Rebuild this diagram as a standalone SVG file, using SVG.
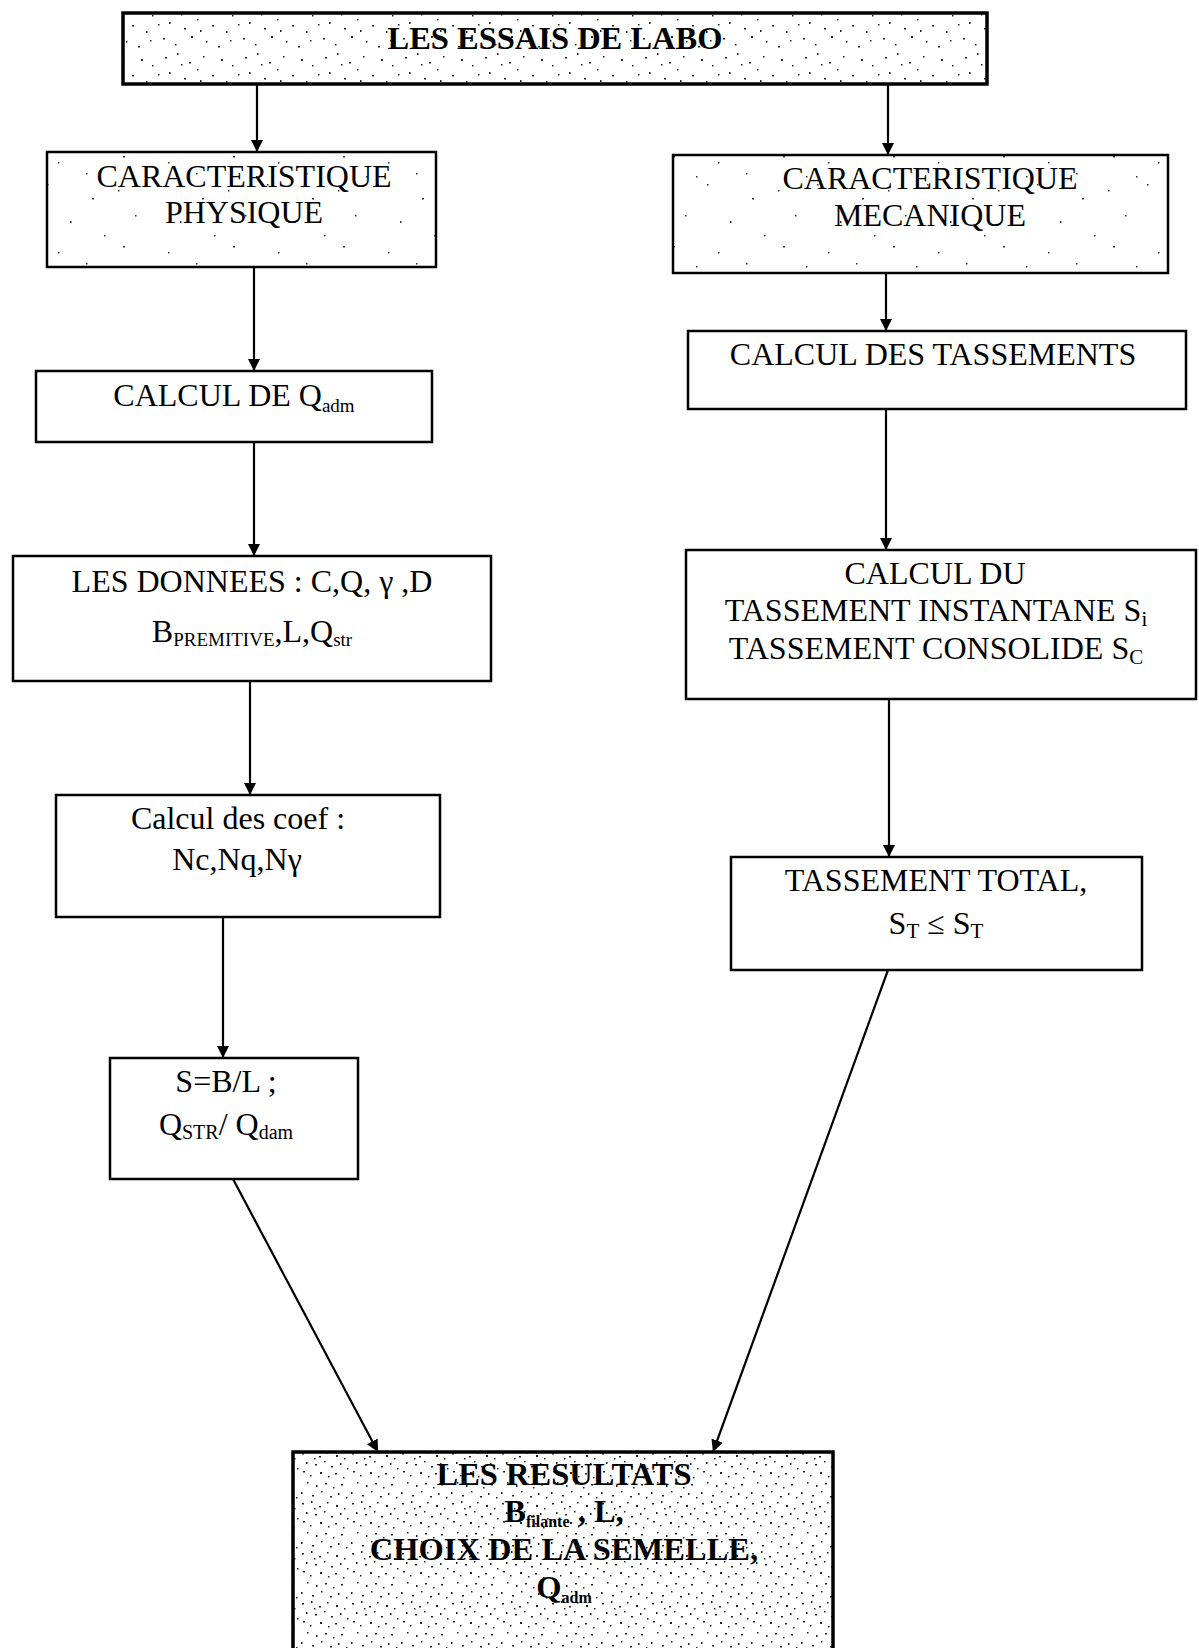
<svg xmlns="http://www.w3.org/2000/svg" width="1199" height="1648" viewBox="0 0 1199 1648">
  <style>
    .box { stroke: #000; stroke-width: 2.5; }
    .heavy { stroke: #000; stroke-width: 3.5; }
    .t { font-family: "Liberation Serif", "Times New Roman", serif; font-size: 32px; fill: #000; text-anchor: middle; }
    .b { font-weight: bold; font-size: 32.5px; }
    .link { stroke: #000; stroke-width: 2.2; fill: none; marker-end: url(#tip); }
  </style>
  <defs>
    <marker id="tip" viewBox="0 0 10 10" refX="10" refY="5" markerWidth="5.5" markerHeight="5.5" orient="auto" markerUnits="strokeWidth">
      <path d="M0,0 L10,5 L0,10 Z" fill="#000"/>
    </marker>
    <!-- light speckle for the top banner -->
    <pattern id="speckMid" width="80" height="50" patternUnits="userSpaceOnUse">
      <rect width="80" height="50" fill="#fff"/>
      <g fill="#222">
        <rect x="5" y="7" width="2" height="1.5"/><rect x="17" y="3" width="1.5" height="2"/>
        <rect x="29" y="12" width="2" height="1.5"/><rect x="43" y="6" width="1.5" height="1.5"/>
        <rect x="61" y="9" width="2" height="2"/><rect x="72" y="15" width="1.5" height="1.5"/>
        <rect x="9" y="22" width="1.5" height="2"/><rect x="24" y="28" width="2" height="1.5"/>
        <rect x="37" y="19" width="1.5" height="1.5"/><rect x="52" y="25" width="2" height="1.5"/>
        <rect x="66" y="31" width="1.5" height="2"/><rect x="78" y="24" width="1.5" height="1.5"/>
        <rect x="3" y="38" width="2" height="1.5"/><rect x="15" y="44" width="1.5" height="1.5"/>
        <rect x="31" y="36" width="2" height="2"/><rect x="46" y="41" width="1.5" height="1.5"/>
        <rect x="58" y="46" width="2" height="1.5"/><rect x="70" y="40" width="1.5" height="1.5"/>
        <rect x="21" y="14" width="1.5" height="1.5"/><rect x="40" y="30" width="1.5" height="2"/>
      </g>
    </pattern>
    <!-- dense speckle for the results box -->
    <pattern id="speckDense" width="50" height="50" patternUnits="userSpaceOnUse">
      <rect width="50" height="50" fill="#fff"/>
      <g fill="#222">
        <rect x="2" y="3" width="2" height="1.5"/><rect x="11" y="1" width="1.5" height="2"/>
        <rect x="19" y="6" width="2" height="1.5"/><rect x="27" y="2" width="1.5" height="1.5"/>
        <rect x="36" y="5" width="2" height="2"/><rect x="44" y="8" width="1.5" height="1.5"/>
        <rect x="6" y="12" width="1.5" height="2"/><rect x="15" y="14" width="2" height="1.5"/>
        <rect x="24" y="11" width="1.5" height="1.5"/><rect x="31" y="16" width="2" height="1.5"/>
        <rect x="40" y="13" width="1.5" height="2"/><rect x="47" y="18" width="1.5" height="1.5"/>
        <rect x="3" y="21" width="2" height="1.5"/><rect x="10" y="25" width="1.5" height="1.5"/>
        <rect x="20" y="22" width="2" height="2"/><rect x="28" y="26" width="1.5" height="1.5"/>
        <rect x="35" y="23" width="2" height="1.5"/><rect x="43" y="27" width="1.5" height="1.5"/>
        <rect x="7" y="32" width="1.5" height="1.5"/><rect x="16" y="35" width="1.5" height="2"/>
        <rect x="25" y="33" width="2" height="1.5"/><rect x="33" y="37" width="1.5" height="1.5"/>
        <rect x="41" y="34" width="2" height="1.5"/><rect x="1" y="42" width="1.5" height="2"/>
        <rect x="12" y="45" width="2" height="1.5"/><rect x="21" y="41" width="1.5" height="1.5"/>
        <rect x="30" y="46" width="2" height="1.5"/><rect x="38" y="43" width="1.5" height="2"/>
        <rect x="46" y="47" width="1.5" height="1.5"/><rect x="14" y="8" width="1.5" height="1.5"/>
      </g>
    </pattern>
    <!-- sparse speckle for the two characteristic boxes -->
    <pattern id="speckLight" width="110" height="90" patternUnits="userSpaceOnUse">
      <rect width="110" height="90" fill="#fff"/>
      <g fill="#333">
        <rect x="8" y="10" width="1.5" height="1.5"/><rect x="47" y="4" width="1.5" height="1.5"/>
        <rect x="92" y="18" width="2" height="1.5"/><rect x="25" y="35" width="1.5" height="1.5"/>
        <rect x="70" y="41" width="1.5" height="2"/><rect x="104" y="55" width="1.5" height="1.5"/>
        <rect x="13" y="66" width="2" height="1.5"/><rect x="58" y="72" width="1.5" height="1.5"/>
        <rect x="86" y="83" width="1.5" height="1.5"/><rect x="36" y="86" width="1.5" height="1.5"/>
      </g>
    </pattern>
  </defs>

  <!-- connectors -->
  <g id="connectors">
    <line class="link" x1="257" y1="84" x2="257" y2="152"/>
    <line class="link" x1="888" y1="84" x2="888" y2="155"/>
    <line class="link" x1="254" y1="267" x2="254" y2="371"/>
    <line class="link" x1="886" y1="273" x2="886" y2="331"/>
    <line class="link" x1="254" y1="442" x2="254" y2="556"/>
    <line class="link" x1="886" y1="409" x2="886" y2="550"/>
    <line class="link" x1="250" y1="681" x2="250" y2="795"/>
    <line class="link" x1="889" y1="699" x2="889" y2="857"/>
    <line class="link" x1="223" y1="917" x2="223" y2="1058"/>
    <line class="link" x1="233" y1="1179" x2="378" y2="1452"/>
    <line class="link" x1="888" y1="970" x2="713" y2="1452"/>
  </g>

  <g id="essais">
    <rect class="heavy" x="123" y="13" width="864" height="71" fill="url(#speckMid)"/>
    <text class="t b" x="555" y="49" font-size="31.5">LES ESSAIS DE LABO</text>
  </g>

  <g id="physique">
    <rect class="box" x="47" y="152" width="389" height="115" fill="url(#speckLight)"/>
    <text class="t" x="244" y="187">CARACTERISTIQUE</text>
    <text class="t" x="244" y="223">PHYSIQUE</text>
  </g>

  <g id="mecanique">
    <rect class="box" x="673" y="155" width="495" height="118" fill="url(#speckLight)"/>
    <text class="t" x="930" y="189">CARACTERISTIQUE</text>
    <text class="t" x="930" y="226">MECANIQUE</text>
  </g>

  <g id="qadm">
    <rect class="box" x="36" y="371" width="396" height="71" fill="#fff"/>
    <text class="t" x="234" y="406">CALCUL DE Q<tspan font-size="19" dy="6">adm</tspan></text>
  </g>

  <g id="tassements">
    <rect class="box" x="688" y="331" width="498" height="78" fill="#fff"/>
    <text class="t" x="933" y="365">CALCUL DES TASSEMENTS</text>
  </g>

  <g id="donnees">
    <rect class="box" x="13" y="556" width="478" height="125" fill="#fff"/>
    <text class="t" x="252" y="592">LES DONNEES : C,Q, γ ,D</text>
    <text class="t" x="252" y="642">B<tspan font-size="19" dy="4">PREMITIVE</tspan><tspan dy="-4">,L,Q</tspan><tspan font-size="19" dy="4">str</tspan></text>
  </g>

  <g id="calcul-du">
    <rect class="box" x="686" y="550" width="510" height="149" fill="#fff"/>
    <text class="t" x="935" y="584">CALCUL DU</text>
    <text class="t" x="936" y="621">TASSEMENT INSTANTANE S<tspan font-size="21" dy="5">i</tspan></text>
    <text class="t" x="936" y="659">TASSEMENT CONSOLIDE S<tspan font-size="21" dy="5">C</tspan></text>
  </g>

  <g id="coef">
    <rect class="box" x="56" y="795" width="384" height="122" fill="#fff"/>
    <text class="t" x="238" y="829">Calcul des coef :</text>
    <text class="t" x="237" y="870">Nc,Nq,Nγ</text>
  </g>

  <g id="total">
    <rect class="box" x="731" y="857" width="411" height="113" fill="#fff"/>
    <text class="t" x="936" y="891">TASSEMENT TOTAL,</text>
    <text class="t" x="936" y="934">S<tspan font-size="21" dy="4">T</tspan><tspan dy="-4"> ≤ S</tspan><tspan font-size="21" dy="4">T</tspan></text>
  </g>

  <g id="rapport">
    <rect class="box" x="110" y="1058" width="248" height="121" fill="#fff"/>
    <text class="t" x="226" y="1092">S=B/L ;</text>
    <text class="t" x="226" y="1135">Q<tspan font-size="20" dy="4">STR</tspan><tspan dy="-4">/ Q</tspan><tspan font-size="20" dy="4">dam</tspan></text>
  </g>

  <g id="resultats">
    <rect class="heavy" x="293" y="1452" width="540" height="210" fill="url(#speckDense)"/>
    <text class="t b" x="564" y="1485">LES RESULTATS</text>
    <text class="t b" x="564" y="1522">B<tspan font-size="16" dy="5">filante</tspan><tspan dy="-5"> , L,</tspan></text>
    <text class="t b" x="564" y="1560">CHOIX DE LA SEMELLE,</text>
    <text class="t b" x="564" y="1598">Q<tspan font-size="16" dy="5">adm</tspan></text>
  </g>
</svg>
